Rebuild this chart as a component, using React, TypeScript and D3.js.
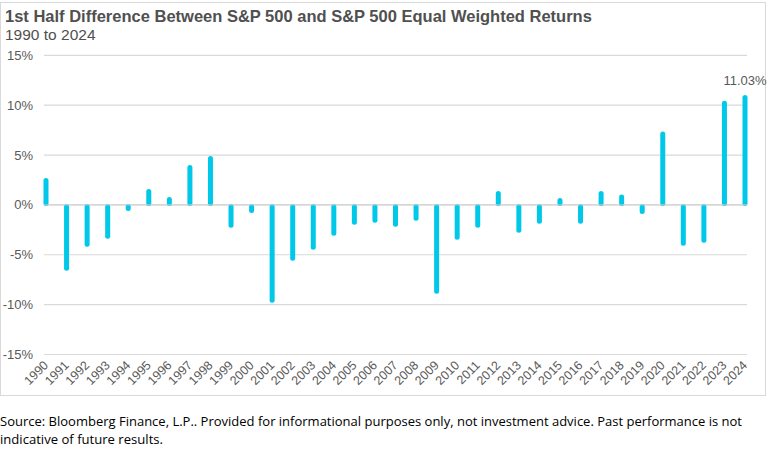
import * as d3 from 'd3';
import React from 'react';

const years = d3.range(1990, 2025).map(String);
const diffs = [
  2.7, -6.6, -4.2, -3.4, -0.6, 1.6, 0.8, 4.0, 4.9, -2.3,
  -0.8, -9.8, -5.6, -4.5, -3.1, -2.0, -1.8, -2.2, -1.6, -8.9,
  -3.5, -2.3, 1.4, -2.8, -1.9, 0.7, -1.9, 1.4, 1.05, -0.9,
  7.35, -4.1, -3.8, 10.45, 11.03,
];
const yTicks = [-15, -10, -5, 0, 5, 10, 15];

export default function App() {
  const svgRef = React.useRef<SVGSVGElement>(null);

  React.useEffect(() => {
    if (svgRef.current == null) {
      return;
    }
    const svg = d3.select(svgRef.current);
    svg.selectAll('*').remove();

    const xScale = d3.scalePoint<string>().domain(years).range([46, 745]);
    const yScale = d3.scaleLinear().domain([-15, 15]).range([354.5, 55.3]);

    // frame
    svg
      .append('rect')
      .attr('x', 0.5)
      .attr('y', 2.5)
      .attr('width', 765)
      .attr('height', 393)
      .attr('fill', 'white')
      .attr('stroke', '#d9d9d9');

    svg
      .append('text')
      .attr('x', 5)
      .attr('y', 22)
      .style('font', 'bold 16.5px "Liberation Sans", Arial, sans-serif')
      .attr('fill', '#505050')
      .text('1st Half Difference Between S&P 500 and S&P 500 Equal Weighted Returns');

    svg
      .append('text')
      .attr('x', 5)
      .attr('y', 40)
      .style('font', '15.5px "Liberation Sans", Arial, sans-serif')
      .attr('fill', '#505050')
      .text('1990 to 2024');

    // gridlines and y labels
    for (const t of yTicks) {
      svg
        .append('line')
        .attr('x1', 44)
        .attr('x2', 747)
        .attr('y1', yScale(t))
        .attr('y2', yScale(t))
        .attr('stroke', '#d9d9d9')
        .attr('stroke-width', 1.2);
      svg
        .append('text')
        .attr('x', 33)
        .attr('y', yScale(t) + 4.5)
        .attr('text-anchor', 'end')
        .style('font', '13px "Liberation Sans", Arial, sans-serif')
        .attr('fill', '#595959')
        .text(`${t}%`);
    }

    // bars
    svg
      .selectAll('line.bar')
      .data(diffs)
      .enter()
      .append('line')
      .attr('class', 'bar')
      .attr('x1', (_, i) => xScale(years[i])!)
      .attr('x2', (_, i) => xScale(years[i])!)
      .attr('y1', (d) => yScale(0) + (d > 0 ? -1.5 : 1.5))
      .attr('y2', (d) => yScale(d) + (d > 0 ? 2.5 : -2.5))
      .attr('stroke', '#00c8e8')
      .attr('stroke-width', 5)
      .attr('stroke-linecap', 'round');

    // zero line drawn over the bars
    svg
      .append('line')
      .attr('x1', 44)
      .attr('x2', 747)
      .attr('y1', yScale(0))
      .attr('y2', yScale(0))
      .attr('stroke', '#d0d0d0')
      .attr('stroke-width', 1);

    // x labels
    years.forEach((y) => {
      const x = xScale(y)! + 3;
      svg
        .append('text')
        .attr('transform', `translate(${x},${366}) rotate(-45)`)
        .attr('text-anchor', 'end')
        .style('font', '12.5px "Liberation Sans", Arial, sans-serif')
        .attr('fill', '#595959')
        .text(y);
    });

    const last = diffs.length - 1;
    svg
      .append('text')
      .attr('x', xScale(years[last])!)
      .attr('y', 85)
      .attr('text-anchor', 'middle')
      .style('font', '13px "Liberation Sans", Arial, sans-serif')
      .attr('fill', '#595959')
      .text(`${diffs[last].toFixed(2)}%`);

    // footer
    const foot = svg
      .append('text')
      .style('font', '12.5px "Open Sans", sans-serif')
      .attr('fill', '#000');
    foot
      .append('tspan')
      .attr('x', 0)
      .attr('y', 426)
      .attr('textLength', 742)
      .attr('lengthAdjust', 'spacingAndGlyphs')
      .text(
        'Source: Bloomberg Finance, L.P.. Provided for informational purposes only, not investment advice. Past performance is not'
      );
    foot
      .append('tspan')
      .attr('x', 0)
      .attr('y', 444)
      .attr('textLength', 163)
      .attr('lengthAdjust', 'spacingAndGlyphs')
      .text('indicative of future results.');
  }, []);

  return (
    <svg
      ref={svgRef}
      width={768}
      height={453}
      style={{ position: 'absolute', left: 0, top: 0, background: 'white' }}
    ></svg>
  );
}
